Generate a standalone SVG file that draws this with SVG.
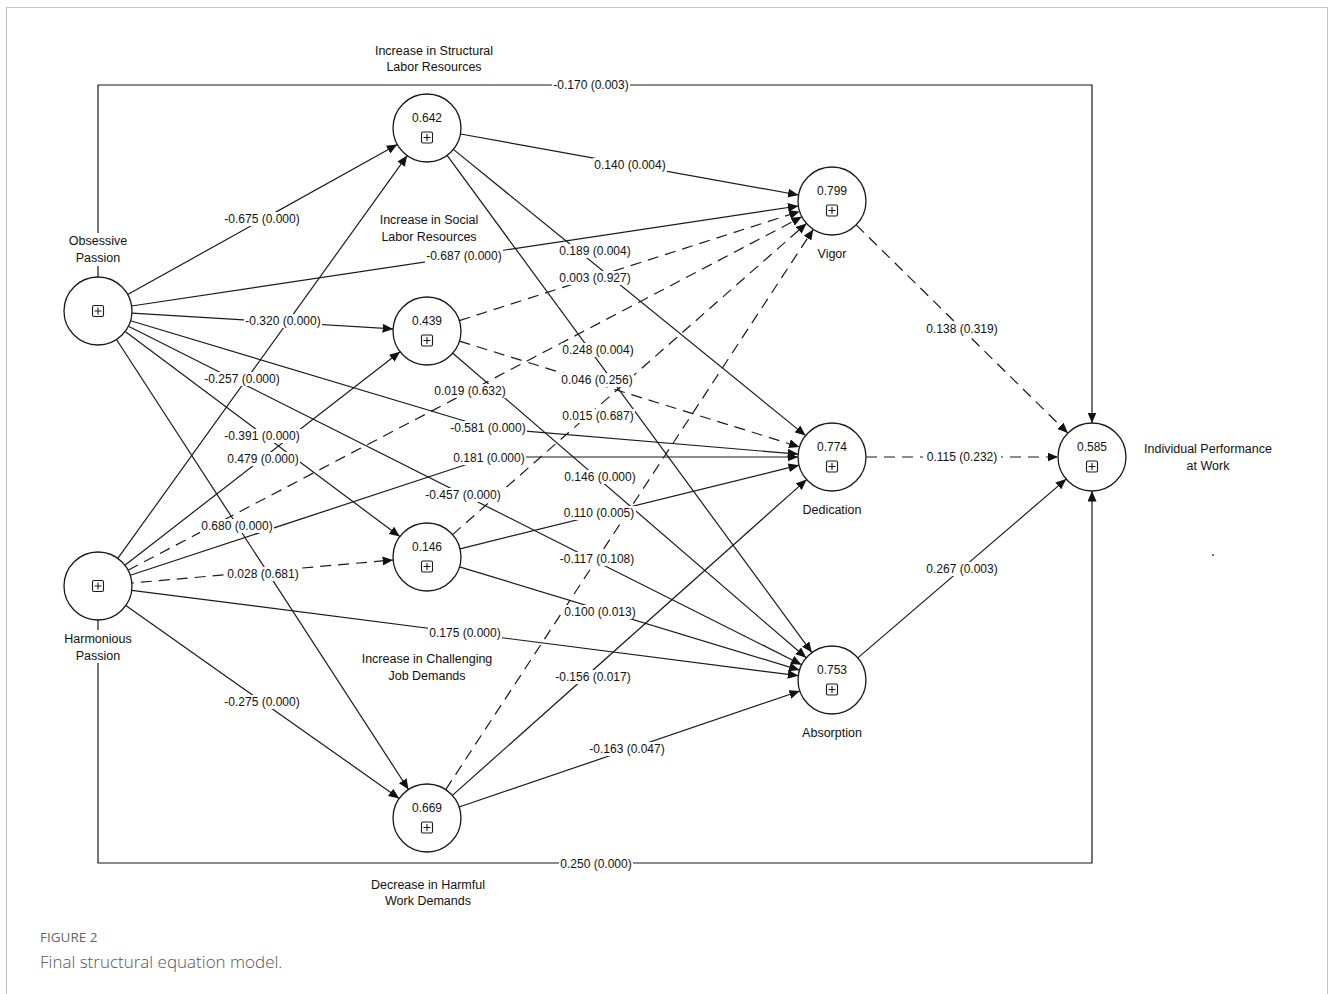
<svg xmlns="http://www.w3.org/2000/svg" width="1330" height="994" viewBox="0 0 1330 994">
<defs>
<marker id="ah" markerUnits="userSpaceOnUse" markerWidth="11" markerHeight="9" refX="10.5" refY="4.5" orient="auto">
<path d="M0,0 L10.5,4.5 L0,9 z" fill="#111"/>
</marker>
<g id="ic"><rect x="-5.5" y="-5.5" width="11" height="11" rx="1.5" fill="#fff" stroke="#1a1a1a" stroke-width="1.1"/><path d="M0,-3.5 V3.5 M-3.5,0 H3.5" stroke="#1a1a1a" stroke-width="1.1"/></g>
</defs>
<style>
.ln{fill:none;stroke:#1a1a1a;stroke-width:1.2}
.ds{stroke-dasharray:11 7}
.nd{fill:#fff;stroke:#1a1a1a;stroke-width:1.3}
.bg{fill:#fff}
text{font-family:"Liberation Sans",Arial,sans-serif;fill:#111}
.el{font-size:12px;text-anchor:middle}
.nm{font-size:12.5px;text-anchor:middle}
.val{font-size:12px;text-anchor:middle}
.cap1{font-family:"Open Sans","Liberation Sans",sans-serif;font-size:13.5px;fill:#666}
.cap2{font-family:"Open Sans","Liberation Sans",sans-serif;font-size:17px;fill:#555;font-weight:300}
</style>
<rect width="1330" height="994" fill="#fff"/>
<rect x="6.5" y="7.5" width="1321" height="1000" fill="none" stroke="#c4c4c4" stroke-width="1"/>

<g id="connectors">
<g id="edge-lines" marker-end="url(#ah)">
<path class="ln" d="M127.7,294.5 L397.3,144.5"/>
<path class="ln" d="M131.6,306 L798.4,206"/>
<path class="ln" d="M131.9,313.1 L393.1,328.9"/>
<path class="ln" d="M125.2,331.4 L399.8,536.6"/>
<path class="ln" d="M116.5,339.5 L408.5,789.5"/>
<path class="ln" d="M130.6,320.8 L488,428 L798.1,454.1"/>
<path class="ln" d="M128.4,326.3 L801.6,664.7"/>
<path class="ln" d="M98,277 V85 H1092 V423"/>
<path class="ln" d="M117.8,558.4 L407.2,155.6"/>
<path class="ln" d="M124.9,565.2 L400.1,351.8"/>
<path class="ln ds" stroke-dashoffset="9" d="M131.9,583 L393.1,560"/>
<path class="ln" d="M125.8,605.6 L399.2,798.4"/>
<path class="ln ds" d="M128.1,570.2 L801.9,216.8"/>
<path class="ln" d="M130.3,575.3 L489,457 L798,457"/>
<path class="ln" d="M131.7,590.3 L798.3,675.7"/>
<path class="ln" d="M98,620 V863 H1092 V491"/>
<path class="ln" d="M460.5,134 L798.5,195"/>
<path class="ln" d="M453.4,149.4 L805.6,435.6"/>
<path class="ln" d="M447.1,155.4 L811.9,652.6"/>
<path class="ln ds" d="M459.4,320.6 L799.6,211.4"/>
<path class="ln ds" d="M459.5,341.1 L799.5,446.9"/>
<path class="ln" d="M452.8,353.2 L806.2,657.8"/>
<path class="ln ds" d="M452.5,534.6 L806.5,223.4"/>
<path class="ln" d="M460,548.8 L799,465.2"/>
<path class="ln" d="M459.5,566.9 L799.5,670.1"/>
<path class="ln ds" d="M445.7,789.6 L813.3,229.4"/>
<path class="ln" d="M452.4,795.4 L806.6,479.6"/>
<path class="ln" d="M459.2,807 L799.8,691"/>
<path class="ln ds" d="M856.2,224.9 L1067.8,433.1"/>
<path class="ln ds" d="M866,457 L1058,457"/>
<path class="ln" d="M857.8,657.9 L1066.2,479.1"/>
</g>
<g id="edge-labels">
<rect class="bg" x="552" y="78" width="78" height="14"/><text class="el" x="591" y="89.3">-0.170 (0.003)</text>
<rect class="bg" x="559" y="857" width="74" height="14"/><text class="el" x="596" y="868.3">0.250 (0.000)</text>
<rect class="bg" x="223" y="212" width="78" height="14"/><text class="el" x="262" y="223.3">-0.675 (0.000)</text>
<rect class="bg" x="425" y="249" width="78" height="14"/><text class="el" x="464" y="260.3">-0.687 (0.000)</text>
<rect class="bg" x="244" y="314" width="78" height="14"/><text class="el" x="283" y="325.3">-0.320 (0.000)</text>
<rect class="bg" x="203" y="372" width="78" height="14"/><text class="el" x="242" y="383.3">-0.257 (0.000)</text>
<rect class="bg" x="223" y="429" width="78" height="14"/><text class="el" x="262" y="440.3">-0.391 (0.000)</text>
<rect class="bg" x="226" y="452" width="74" height="14"/><text class="el" x="263" y="463.3">0.479 (0.000)</text>
<rect class="bg" x="200" y="519" width="74" height="14"/><text class="el" x="237" y="530.3">0.680 (0.000)</text>
<rect class="bg" x="226" y="567" width="74" height="14"/><text class="el" x="263" y="578.3">0.028 (0.681)</text>
<rect class="bg" x="223" y="695" width="78" height="14"/><text class="el" x="262" y="706.3">-0.275 (0.000)</text>
<rect class="bg" x="433" y="384" width="74" height="14"/><text class="el" x="470" y="395.3">0.019 (0.632)</text>
<rect class="bg" x="449" y="421" width="78" height="14"/><text class="el" x="488" y="432.3">-0.581 (0.000)</text>
<rect class="bg" x="452" y="451" width="74" height="14"/><text class="el" x="489" y="462.3">0.181 (0.000)</text>
<rect class="bg" x="424" y="488" width="78" height="14"/><text class="el" x="463" y="499.3">-0.457 (0.000)</text>
<rect class="bg" x="428" y="626" width="74" height="14"/><text class="el" x="465" y="637.3">0.175 (0.000)</text>
<rect class="bg" x="593" y="158" width="74" height="14"/><text class="el" x="630" y="169.3">0.140 (0.004)</text>
<rect class="bg" x="558" y="244" width="74" height="14"/><text class="el" x="595" y="255.3">0.189 (0.004)</text>
<rect class="bg" x="558" y="271" width="74" height="14"/><text class="el" x="595" y="282.3">0.003 (0.927)</text>
<rect class="bg" x="561" y="343" width="74" height="14"/><text class="el" x="598" y="354.3">0.248 (0.004)</text>
<rect class="bg" x="560" y="373" width="74" height="14"/><text class="el" x="597" y="384.3">0.046 (0.256)</text>
<rect class="bg" x="561" y="409" width="74" height="14"/><text class="el" x="598" y="420.3">0.015 (0.687)</text>
<rect class="bg" x="563" y="470" width="74" height="14"/><text class="el" x="600" y="481.3">0.146 (0.000)</text>
<rect class="bg" x="562" y="506" width="74" height="14"/><text class="el" x="599" y="517.3">0.110 (0.005)</text>
<rect class="bg" x="558" y="552" width="78" height="14"/><text class="el" x="597" y="563.3">-0.117 (0.108)</text>
<rect class="bg" x="563" y="605" width="74" height="14"/><text class="el" x="600" y="616.3">0.100 (0.013)</text>
<rect class="bg" x="554" y="670" width="78" height="14"/><text class="el" x="593" y="681.3">-0.156 (0.017)</text>
<rect class="bg" x="588" y="742" width="78" height="14"/><text class="el" x="627" y="753.3">-0.163 (0.047)</text>
<rect class="bg" x="925" y="322" width="74" height="14"/><text class="el" x="962" y="333.3">0.138 (0.319)</text>
<rect class="bg" x="923" y="450" width="78" height="14"/><text class="el" x="962" y="461.3">0.115 (0.232)</text>
<rect class="bg" x="925" y="562" width="74" height="14"/><text class="el" x="962" y="573.3">0.267 (0.003)</text>
</g>
</g>

<g id="node-op"><circle class="nd" cx="98" cy="311" r="34"/><use href="#ic" x="98" y="311"/><rect class="bg" x="64" y="233" width="68" height="33"/><text class="nm" x="98" y="245">Obsessive</text><text class="nm" x="98" y="262">Passion</text></g>
<g id="node-hp"><circle class="nd" cx="98" cy="586" r="34"/><use href="#ic" x="98" y="586"/><rect class="bg" x="60" y="630" width="76" height="33"/><text class="nm" x="98" y="642.5">Harmonious</text><text class="nm" x="98" y="659.5">Passion</text></g>
<g id="node-structural"><circle class="nd" cx="427" cy="128" r="34"/><text class="val" x="427" y="122">0.642</text><use href="#ic" x="427" y="137.5"/><text class="nm" x="434" y="54.5">Increase in Structural</text><text class="nm" x="434" y="71">Labor Resources</text></g>
<g id="node-social"><circle class="nd" cx="427" cy="331" r="34"/><text class="val" x="427" y="325">0.439</text><use href="#ic" x="427" y="340.5"/><text class="nm" x="429" y="223.5">Increase in Social</text><text class="nm" x="429" y="240.5">Labor Resources</text></g>
<g id="node-challenging"><circle class="nd" cx="427" cy="557" r="34"/><text class="val" x="427" y="551">0.146</text><use href="#ic" x="427" y="566.5"/><text class="nm" x="427" y="662.5">Increase in Challenging</text><text class="nm" x="427" y="679.5">Job Demands</text></g>
<g id="node-harmful"><circle class="nd" cx="427" cy="818" r="34"/><text class="val" x="427" y="812">0.669</text><use href="#ic" x="427" y="827.5"/><text class="nm" x="428" y="888.5">Decrease in Harmful</text><text class="nm" x="428" y="905">Work Demands</text></g>
<g id="node-vigor"><circle class="nd" cx="832" cy="201" r="34"/><text class="val" x="832" y="195">0.799</text><use href="#ic" x="832" y="210.5"/><text class="nm" x="832" y="257.5">Vigor</text></g>
<g id="node-dedication"><circle class="nd" cx="832" cy="457" r="34"/><text class="val" x="832" y="451">0.774</text><use href="#ic" x="832" y="466.5"/><text class="nm" x="832" y="513.5">Dedication</text></g>
<g id="node-absorption"><circle class="nd" cx="832" cy="680" r="34"/><text class="val" x="832" y="674">0.753</text><use href="#ic" x="832" y="689.5"/><text class="nm" x="832" y="736.5">Absorption</text></g>
<g id="node-performance"><circle class="nd" cx="1092" cy="457" r="34"/><text class="val" x="1092" y="451">0.585</text><use href="#ic" x="1092" y="466.5"/><text class="nm" x="1208" y="452.5">Individual Performance</text><text class="nm" x="1208" y="469.5">at Work</text></g>

<rect x="1212" y="554" width="2" height="2" fill="#777"/>

<text class="cap1" x="40" y="942">FIGURE 2</text>
<text class="cap2" x="40" y="968">Final structural equation model.</text>
</svg>
